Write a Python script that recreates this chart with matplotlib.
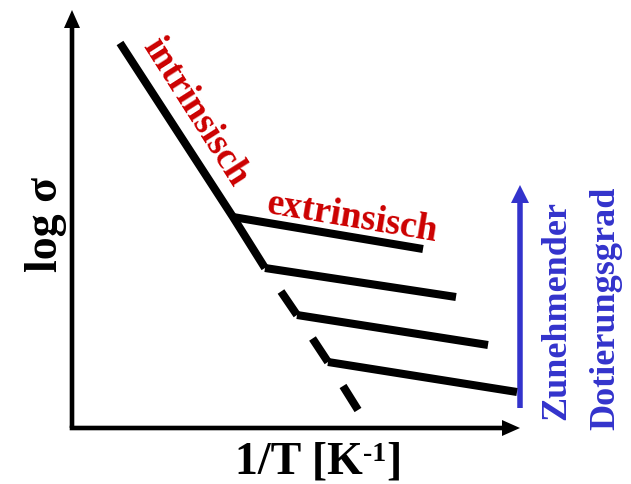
import numpy as np
import matplotlib
matplotlib.use("Agg")
import matplotlib.pyplot as plt

# Schematic conductivity plot: log(sigma) versus 1/T, coordinates in arbitrary units
# (origin at the corner of the two axes).
intrinsic_start = (48, 385)
# knee points where the extrinsic branches leave the intrinsic line (increasing doping -> lower)
knee_x = [161, 193, 225, 256]
knee_y = [211, 160, 113, 66]
# end of the dashed intrinsic continuation
intrinsic_tail = (286, 18)
# right ends of the extrinsic branches
ext_end_x = [351, 384, 416, 445]
ext_end_y = [179, 131, 83, 36]

x_axis_len = 448
y_axis_len = 418
doping_arrow = (448, 20, 243)   # x, y bottom, y top

RED = "#CC0000"
BLUE = "#3333CC"
SERIF = "Liberation Serif"

fig = plt.figure(figsize=(6.31, 4.84), dpi=100)
ax = fig.add_axes([0, 0, 1, 1])
ax.set_xlim(-72, 559)
ax.set_ylim(-56, 428)
ax.axis("off")

# axes with arrow heads (the horizontal one starts half a width early to close the corner)
AXW = 4.6
ax.arrow(-AXW / 2, 0, x_axis_len + AXW / 2, 0, width=AXW, head_width=16,
         head_length=18, length_includes_head=True, color="black", lw=0)
ax.arrow(0, 0, 0, y_axis_len, width=AXW, head_width=16, head_length=18,
         length_includes_head=True, color="black", lw=0)

LW = 5.8
kx = np.array(knee_x, dtype=float)
ky = np.array(knee_y, dtype=float)

# solid intrinsic line down to the second knee
ax.plot([intrinsic_start[0], kx[0], kx[1]], [intrinsic_start[1], ky[0], ky[1]],
        color="black", lw=LW, solid_capstyle="butt", solid_joinstyle="miter")

# dashed continuation: half-segments ending at each lower knee, plus the tail
px = np.append(kx[1:], intrinsic_tail[0])
py = np.append(ky[1:], intrinsic_tail[1])
for i in range(len(px) - 1):
    mx, my = (px[i] + px[i + 1]) / 2, (py[i] + py[i + 1]) / 2
    ax.plot([mx, px[i + 1]], [my, py[i + 1]], color="black", lw=LW,
            solid_capstyle="butt")

# extrinsic branches
for x0, y0, x1, y1 in zip(knee_x, knee_y, ext_end_x, ext_end_y):
    ax.plot([x0, x1], [y0, y1], color="black", lw=LW, solid_capstyle="butt")

# doping arrow
bx, by0, by1 = doping_arrow
ax.arrow(bx, by0, 0, by1 - by0, width=5.5, head_width=18, head_length=18,
         length_includes_head=True, color=BLUE, lw=0)

# labels
ax.text(-15, 204, "log σ", rotation=90, rotation_mode="anchor", ha="center",
        va="baseline", fontsize=33, fontweight="bold", family=SERIF)

t1 = ax.text(163, -45, "1/T [K", ha="left", va="baseline", fontsize=33,
             fontweight="bold", family=SERIF)
t2 = ax.annotate("-1", xy=(1, 0.98), xycoords=t1, ha="left", va="top",
                 fontsize=20, fontweight="bold", family=SERIF)
ax.annotate("]", xy=(1, 0), xycoords=(t2, t1), ha="left", va="bottom",
            fontsize=33, fontweight="bold", family=SERIF)

ax.text(123, 316, "intrinsisch", rotation=-57.5, rotation_mode="anchor",
        ha="center", va="center", fontsize=27, fontweight="bold",
        family=SERIF, color=RED)
ax.text(280, 210, "extrinsisch", rotation=-9.5, rotation_mode="anchor",
        ha="center", va="center", fontsize=27, fontweight="bold",
        family=SERIF, color=RED)

ax.text(493, 118, "Zunehmender", rotation=90, rotation_mode="anchor",
        ha="center", va="baseline", fontsize=26, fontweight="bold",
        family=SERIF, color=BLUE)
ax.text(542, 120, "Dotierungsgrad", rotation=90, rotation_mode="anchor",
        ha="center", va="baseline", fontsize=26, fontweight="bold",
        family=SERIF, color=BLUE)

fig.savefig("out.png", dpi=100)
